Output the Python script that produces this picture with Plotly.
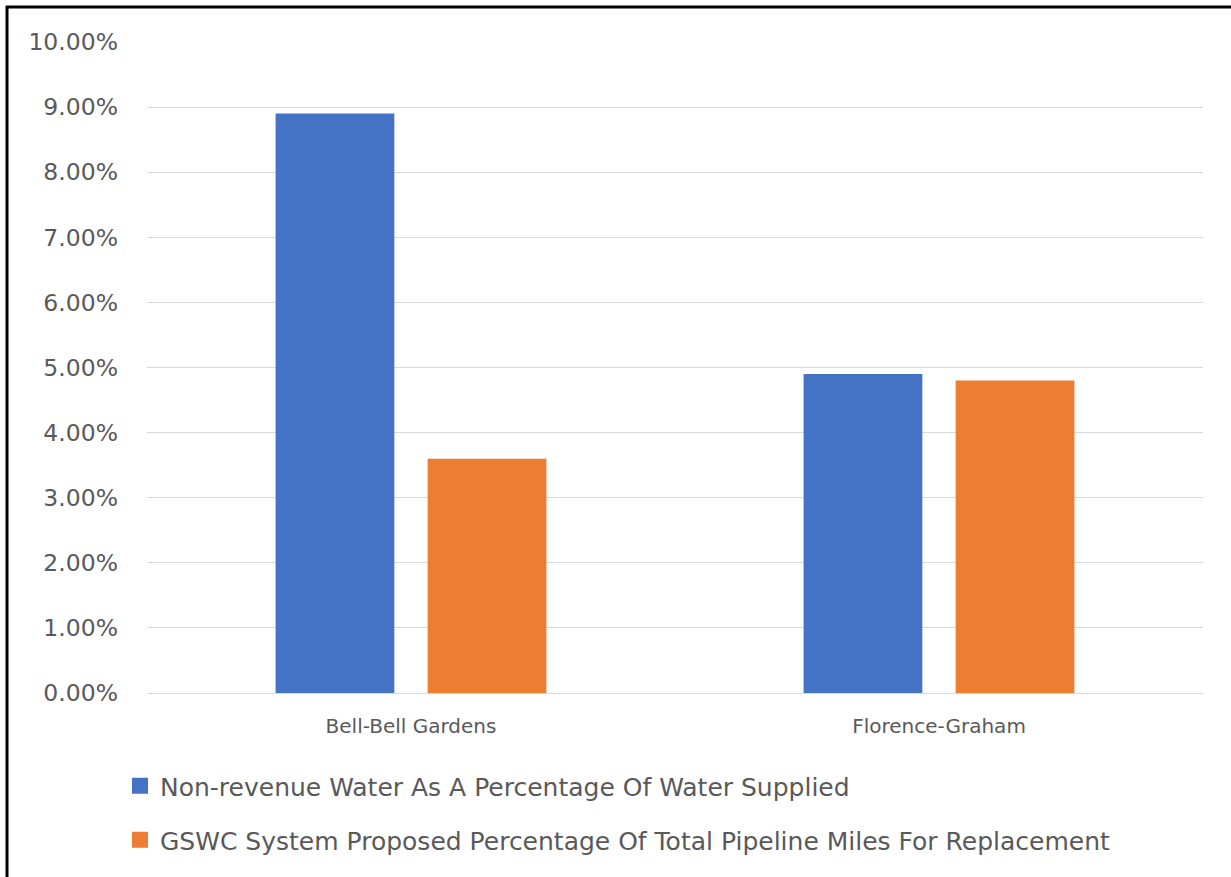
import plotly.graph_objects as go

# Service areas and the two percentage series (in %)
categories = ["Bell-Bell Gardens", "Florence-Graham"]
nrw_pct = [8.9, 4.9]
replacement_pct = [3.6, 4.8]
series_names = [
    "Non-revenue Water As A Percentage Of Water Supplied",
    "GSWC System Proposed Percentage Of Total Pipeline Miles For Replacement",
]
series_colors = ["#4472C4", "#ED7D31"]
y_ticks = [0, 1, 2, 3, 4, 5, 6, 7, 8, 9, 10]
y_tick_labels = [f"{v:.2f}%" for v in y_ticks]

W, H = 1231, 877
ML, MR, MT, MB = 147, 28, 42, 184
PW, PH = W - ML - MR, H - MT - MB

def px_x(x):
    return (x - ML) / PW

def px_y(y):
    return (H - MB - y) / PH

FONT = "DejaVu Sans"
GREY = "#595959"

fig = go.Figure()
for vals, name, color in zip([nrw_pct, replacement_pct], series_names, series_colors):
    fig.add_trace(go.Bar(
        x=categories, y=vals, name=name,
        marker=dict(color=color, line=dict(width=0)),
        showlegend=False,
    ))

# legend entries with larger square swatches, one legend per series
for i, (name, color) in enumerate(zip(series_names, series_colors)):
    fig.add_trace(go.Scatter(
        x=[None], y=[None], mode="markers", name=name,
        marker=dict(symbol="square", size=16, color=color),
        legend="legend" if i == 0 else "legend2",
        hoverinfo="skip",
    ))

legend_common = dict(
    font=dict(family=FONT, size=25, color=GREY),
    bgcolor="rgba(0,0,0,0)",
    xanchor="left", yanchor="middle",
    itemsizing="trace",
    itemclick=False,
)

fig.update_layout(
    width=W, height=H,
    margin=dict(l=ML, r=MR, t=MT, b=MB),
    paper_bgcolor="white", plot_bgcolor="white",
    barmode="group", bargap=0.424, bargroupgap=0.219,
    showlegend=True,
    legend=dict(x=px_x(120), y=px_y(786), **legend_common),
    legend2=dict(x=px_x(120), y=px_y(840), **legend_common),
    xaxis=dict(
        tickfont=dict(family=FONT, size=20, color=GREY),
        showline=True, linecolor="#d9d9d9", linewidth=1,
        ticks="", ticklabelstandoff=15,
        showgrid=False,
    ),
    yaxis=dict(
        range=[0, 10], tickvals=y_ticks, ticktext=y_tick_labels,
        tickfont=dict(family=FONT, size=23.5, color=GREY),
        showgrid=True, gridcolor="#d9d9d9", gridwidth=1,
        zeroline=False, showline=False, ticks="",
        ticklabelstandoff=28,
    ),
    shapes=[
        # top and left edges of the chart frame
        dict(type="line", xref="paper", yref="paper",
             x0=px_x(6), x1=px_x(W + 5), y0=px_y(7), y1=px_y(7),
             line=dict(color="black", width=3)),
        dict(type="line", xref="paper", yref="paper",
             x0=px_x(7), x1=px_x(7), y0=px_y(6), y1=px_y(H + 5),
             line=dict(color="black", width=3)),
    ],
)

fig.write_html("out.html")
